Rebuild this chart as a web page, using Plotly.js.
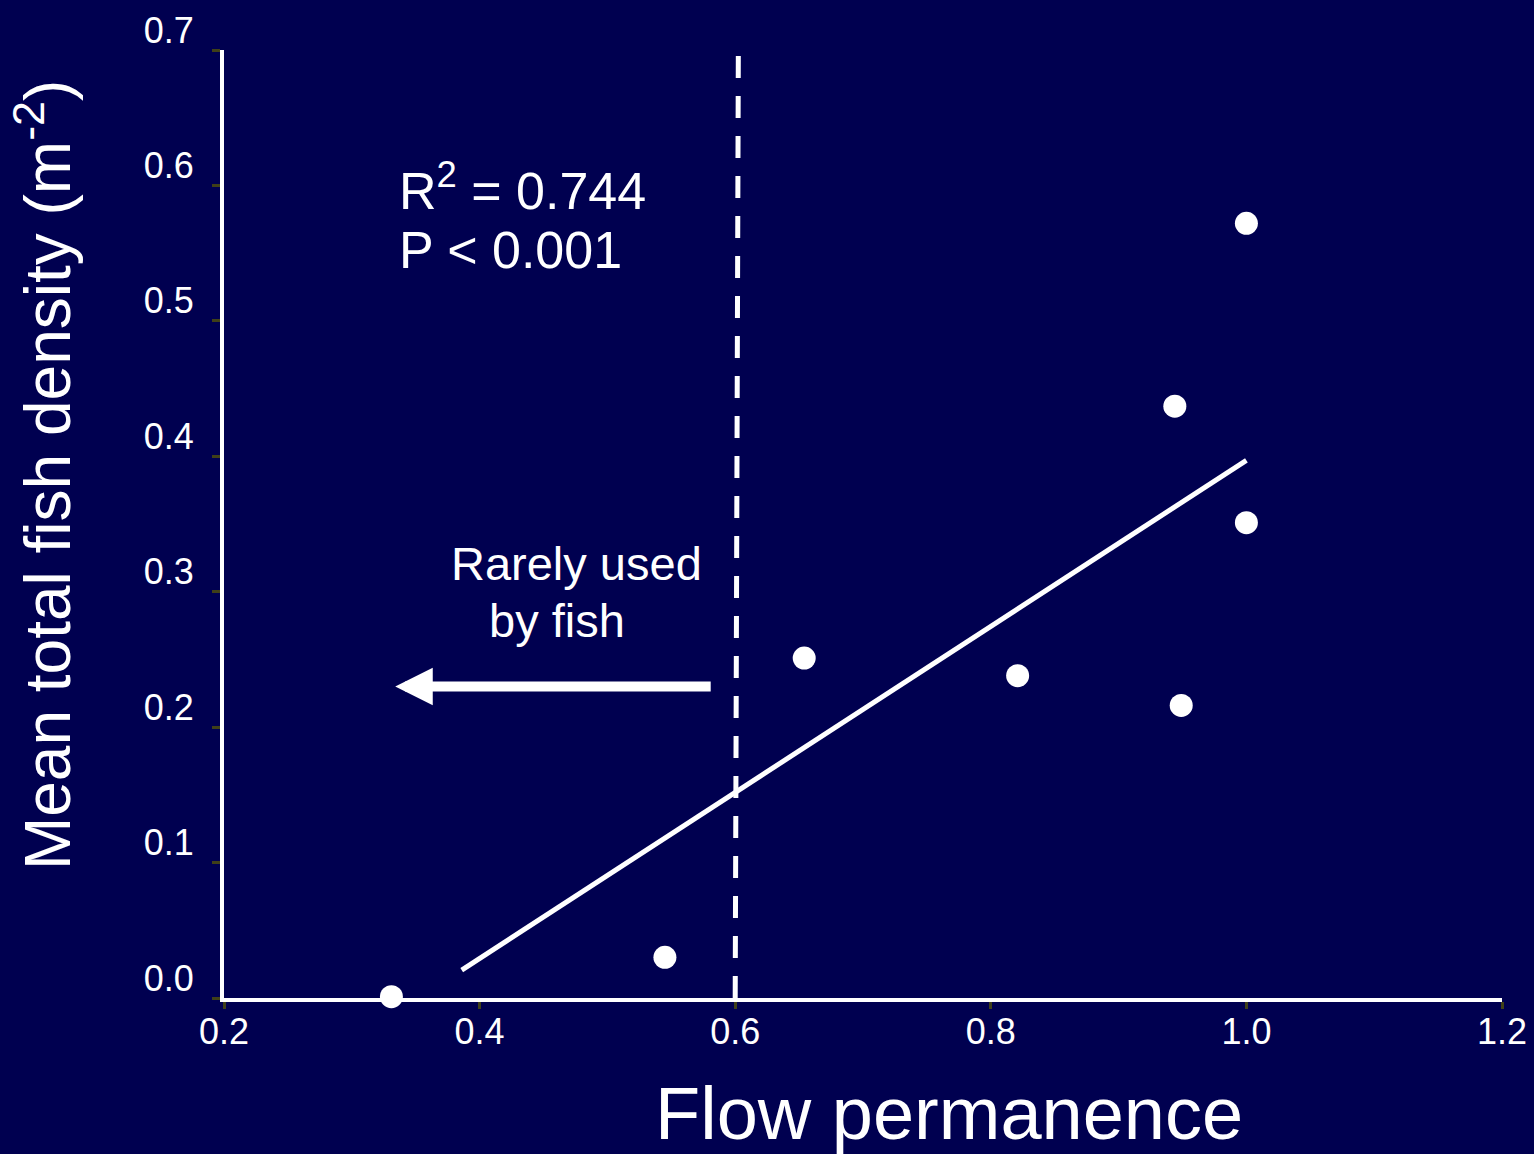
<!DOCTYPE html>
<html>
<head>
<meta charset="utf-8">
<script src="https://cdn.plot.ly/plotly-3.0.1.min.js"></script>
<style>
  html, body { margin: 0; padding: 0; background: #000050; }
  #chart { width: 1534px; height: 1154px; }
</style>
</head>
<body>
<div id="chart"></div>
<script>
// Sites: flow permanence vs mean total fish density
const flowPermanence = [0.331, 0.545, 0.654, 0.821, 0.944, 0.949, 1.0, 1.0];
const fishDensity    = [0.001, 0.030, 0.251, 0.238, 0.437, 0.216, 0.572, 0.351];

// Linear fit
const fitSlope = 0.613;
const fitIntercept = -0.216;
const fitRange = [0.386, 1.0];

// Threshold below which sites are rarely used
const threshold = 0.6;

const xTicks = [0.2, 0.4, 0.6, 0.8, 1.0, 1.2];
const xTickText = ['0.2', '0.4', '0.6', '0.8', '1.0', '1.2'];
const yTicks = [0, 0.1, 0.2, 0.3, 0.4, 0.5, 0.6, 0.7];
const yTickText = ['0.0', '0.1', '0.2', '0.3', '0.4', '0.5', '0.6', '0.7'];

const FONT = 'Liberation Sans, Arial, sans-serif';
const BG = '#000050';

const points = {
  x: flowPermanence,
  y: fishDensity,
  type: 'scatter',
  mode: 'markers',
  marker: { color: 'white', size: 23, line: { width: 0 } },
  cliponaxis: false,
  hoverinfo: 'x+y'
};

const fitLine = {
  x: fitRange,
  y: fitRange.map(v => fitSlope * v + fitIntercept),
  type: 'scatter',
  mode: 'lines',
  line: { color: 'white', width: 5 },
  hoverinfo: 'skip'
};

const layout = {
  width: 1534,
  height: 1154,
  paper_bgcolor: BG,
  plot_bgcolor: BG,
  showlegend: false,
  margin: { l: 224, r: 32, t: 50, b: 156 },
  font: { family: FONT, color: 'white' },
  xaxis: {
    range: [0.2, 1.2],
    tickvals: xTicks,
    ticktext: xTickText,
    showgrid: false,
    zeroline: false,
    showline: true,
    linecolor: 'white',
    linewidth: 4,
    ticks: 'outside',
    ticklen: 7,
    tickwidth: 3,
    tickcolor: '#404018',
    ticklabelstandoff: -8,
    tickfont: { family: FONT, size: 36, color: 'white' }
  },
  yaxis: {
    range: [0, 0.7],
    tickvals: yTicks,
    ticktext: yTickText,
    showgrid: false,
    zeroline: false,
    showline: true,
    linecolor: 'white',
    linewidth: 4,
    ticks: 'outside',
    ticklen: 8,
    tickwidth: 3,
    tickcolor: '#404018',
    ticklabelstandoff: 11,
    ticklabelshift: -20,
    tickfont: { family: FONT, size: 36, color: 'white' }
  },
  shapes: [
    {
      type: 'line',
      xref: 'x', yref: 'y',
      x0: threshold, y0: 0,
      x1: threshold + 0.0025, y1: 0.712,
      line: { color: 'white', width: 5, dash: '22px,18px' }
    }
  ],
  annotations: [
    {
      xref: 'x', yref: 'y', x: 0.335, y: 0.599,
      xanchor: 'left', yanchor: 'middle', showarrow: false,
      text: 'R<sup>2</sup> = 0.744',
      font: { family: FONT, size: 52, color: 'white' }
    },
    {
      xref: 'x', yref: 'y', x: 0.335, y: 0.552,
      xanchor: 'left', yanchor: 'middle', showarrow: false,
      text: 'P < 0.001',
      font: { family: FONT, size: 52, color: 'white' }
    },
    {
      xref: 'x', yref: 'y', x: 0.476, y: 0.321,
      xanchor: 'center', yanchor: 'middle', showarrow: false,
      text: 'Rarely used',
      font: { family: FONT, size: 47, color: 'white' }
    },
    {
      xref: 'x', yref: 'y', x: 0.4606, y: 0.279,
      xanchor: 'center', yanchor: 'middle', showarrow: false,
      text: 'by fish',
      font: { family: FONT, size: 47, color: 'white' }
    },
    {
      xref: 'x', yref: 'y', axref: 'x', ayref: 'y',
      x: 0.334, y: 0.230, ax: 0.582, ay: 0.230,
      text: '', showarrow: true,
      arrowhead: 2, arrowsize: 0.75, arrowwidth: 10, arrowcolor: 'white',
      standoff: 0, startstandoff: 0
    },
    {
      xref: 'x', yref: 'paper', x: 0.767, y: -0.122,
      xanchor: 'center', yanchor: 'middle', showarrow: false,
      text: 'Flow permanence',
      font: { family: FONT, size: 74, color: 'white' }
    },
    {
      xref: 'paper', yref: 'y', x: -0.141, y: 0.386,
      xanchor: 'center', yanchor: 'middle', showarrow: false,
      textangle: -90,
      text: 'Mean total fish density (m<sup>-2</sup>)',
      font: { family: FONT, size: 64, color: 'white' }
    }
  ]
};

Plotly.newPlot('chart', [fitLine, points], layout, { displayModeBar: false, staticPlot: true });
</script>
</body>
</html>
